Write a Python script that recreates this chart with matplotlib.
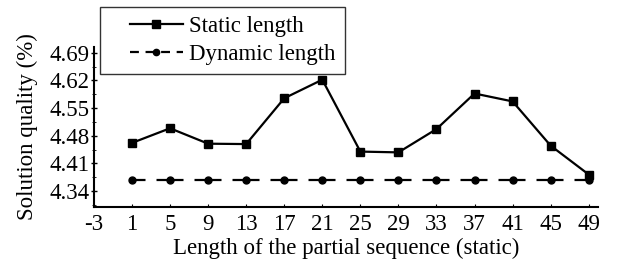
import numpy as np
import matplotlib
matplotlib.use("Agg")
import matplotlib.pyplot as plt
from matplotlib.ticker import AutoMinorLocator
from matplotlib.legend_handler import HandlerLine2D

plt.rcParams['font.family'] = ['Liberation Serif', 'DejaVu Serif']
plt.rcParams['axes.unicode_minus'] = False

# veriler
lengths = [1, 5, 9, 13, 17, 21, 25, 29, 33, 37, 41, 45, 49]
static_q = [4.462, 4.499, 4.460, 4.459, 4.575, 4.622, 4.440, 4.438, 4.497, 4.587, 4.567, 4.455, 4.382]
dynamic_q = [4.368] * len(lengths)
xticks = [-3, 1, 5, 9, 13, 17, 21, 25, 29, 33, 37, 41, 45, 49]
yticks = [4.34, 4.41, 4.48, 4.55, 4.62, 4.69]

fig = plt.figure(figsize=(6.18, 2.68), dpi=100)
ax = fig.add_axes([0.152, 0.228, 0.816, 0.597])

l1, = ax.plot(lengths, static_q, color="black", lw=1.6, marker="s", ms=6, label="Static length")
l2, = ax.plot(lengths, dynamic_q, color="black", lw=1.6, ls=(6.07, (12.15, 4.95)), marker="o", ms=5,
              label="Dynamic length")

ax.set_xlim(-3, 50)
ax.set_ylim(4.30, 4.705)
ax.set_xticks(xticks)
ax.set_yticks(yticks)
ax.yaxis.set_minor_locator(AutoMinorLocator(2))
ax.tick_params(axis="y", direction="inout", labelsize=16.5, length=4, width=1, pad=1)
ax.tick_params(axis="y", which="minor", direction="inout", length=3)
ax.tick_params(axis="x", direction="in", labelsize=16.5, length=2, width=0.8, pad=5)
ax.spines["top"].set_visible(False)
ax.spines["right"].set_visible(False)
ax.spines["left"].set_linewidth(1.5)
ax.spines["bottom"].set_linewidth(1.5)

ax.set_xlabel("Length of the partial sequence (static)", fontsize=16.5, labelpad=2)
ax.set_ylabel("Solution quality (%)", fontsize=16.5, labelpad=8)

# legend icin ayri cizgi (kisa kesikler)
lg2, = ax.plot([], [], color="black", lw=1.6, ls=(0, (4, 3)), marker="o", ms=5, label="Dynamic length")
hm = {l1: HandlerLine2D(xpad=0.9), lg2: HandlerLine2D(xpad=0.9)}
leg = ax.legend(handles=[l1, lg2], handler_map=hm, loc="upper left",
                bbox_to_anchor=(0.162, 0.974), bbox_transform=fig.transFigure,
                fontsize=16.5, frameon=True, fancybox=False, edgecolor="black",
                handlelength=3.2, handletextpad=0.3, borderpad=0.4, borderaxespad=0,
                labelspacing=0.3, markerscale=0.9)
leg.get_frame().set_linewidth(1.0)

plt.savefig("out.png", dpi=100)
